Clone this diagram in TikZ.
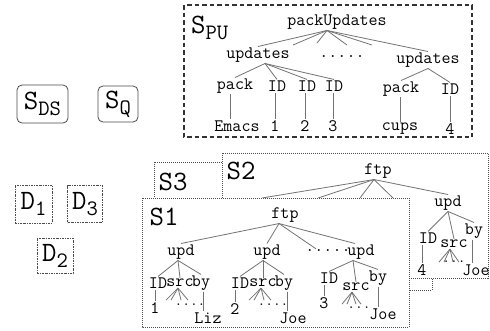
\documentclass[tikz,border=0pt]{standalone}
\usepackage{fontspec}
\usetikzlibrary{calc}
\newcommand\tfont{\ttfamily\fontsize{17.5}{17.5}\selectfont}
\newcommand\dfont{\ttfamily\fontsize{15}{15}\selectfont}
\newcommand\labS[2]{{\ttfamily\fontsize{28}{28}\selectfont #1}{\ttfamily\fontsize{22}{22}\selectfont\raisebox{-6pt}{#2}}}
\begin{document}
\begin{tikzpicture}[x=1pt,y=-1pt,
  t/.style={font=\tfont, inner sep=1pt, text=black},
  td/.style={font=\dfont, inner sep=0pt, text=black},
  big/.style={font=\ttfamily\fontsize{28}{28}\selectfont, inner sep=0pt, text=black},
  ln/.style={draw=black!55, line width=0.8pt},
  dotbox/.style={draw=black!70, line width=1pt, densely dotted, fill=white},
  dashbox/.style={draw=black!80, line width=1.2pt, dash pattern=on 4.5pt off 3pt},
  dbox/.style={draw=black!70, line width=0.9pt, dash pattern=on 2pt off 1pt on 0.7pt off 1pt, inner sep=0pt, text=black},
  rbox/.style={draw=black!70, line width=0.8pt, rounded corners=5pt, inner sep=0pt, text=black}]
\useasboundingbox (0,0) rectangle (490,330);
\fill[white] (0,0) rectangle (490,330);

% ---------- S_PU ----------
\draw[dashbox] (184,5) rectangle (472,137);
\node[inner sep=0pt, anchor=base west, text=black] (lpu) at (191,33) {\labS{S}{PU}};
\node[t] (pu) at (337,22) {packUpdates};
\node[t] (u1) at (258,55) {updates};
\node[t] (ud) at (342,57) {.....};
\node[t] (u2) at (428,60) {updates};
\coordinate (c1) at (293,45);
\coordinate (c2) at (317,43);
\coordinate (c3) at (347,45);
\coordinate (c4) at (372,45);
\foreach \e in {u1.north,c1,c2,c3,c4,u2.north}
  \draw[ln] ([xshift=-10pt]pu.south) -- (\e);
\node[t] (p1) at (235,86) {pack};
\node[t] (i1) at (277,86) {ID};
\node[t] (i2) at (307,86) {ID};
\node[t] (i3) at (334,86) {ID};
\foreach \e in {p1,i1,i2,i3}
  \draw[ln] ([xshift=7pt]u1.south) -- (\e.north);
\node[t] (em) at (237,126) {Emacs};
\node[t] (n1) at (275,126) {1};
\node[t] (n2) at (305,126) {2};
\node[t] (n3) at (333,126) {3};
\draw[ln] ([xshift=-5pt]p1.south) -- ([xshift=-5pt]p1.south |- em.north);
\draw[ln] (n1.north) -- (n1.north |- i1.south);
\draw[ln] (n2.north) -- (n2.north |- i2.south);
\draw[ln] (n3.north) -- (n3.north |- i3.south);
\node[t] (p2) at (401,89) {pack};
\node[t] (i4) at (450,89) {ID};
\draw[ln] (u2.south) -- (p2.north);
\draw[ln] (u2.south) -- (i4.north);
\node[t] (cu) at (400,129) {cups};
\node[t] (n4) at (450,129) {4};
\draw[ln] (cu.north) -- (cu.north |- p2.south);
\draw[ln] (n4.north) -- (n4.north |- i4.south);

% ---------- S_DS, S_Q ----------
\node[rbox, minimum width=51pt, minimum height=38pt] (sds) at (42.5,104) {\labS{S}{DS}};
\node[rbox, minimum width=40pt, minimum height=36pt] (sq) at (118,104) {\labS{S}{Q}};

% ---------- D boxes ----------
\node[dbox, minimum width=37pt, minimum height=38pt] (d1) at (33.5,204) {\labS{D}{1}};
\node[dbox, minimum width=35pt, minimum height=37pt] (d3) at (85,204) {\labS{D}{3}};
\node[dbox, minimum width=36pt, minimum height=35pt] (d2) at (55,255.5) {\labS{D}{2}};

% ---------- S3 ----------
\draw[dotbox] (154,162) rectangle (432,290);
\node[big] (l3) at (173,182) {S3};

% ---------- S2 ----------
\draw[dotbox] (222,153) rectangle (488,278);
\node[big] (l2) at (241,171) {S2};
\node[t] (f2) at (378,171) {ftp};
\coordinate (c5) at (262,198);
\coordinate (c6) at (318,198);
\coordinate (c7) at (360,198);
\coordinate (c8) at (393,198);
\node[t] (s2u) at (448,203) {upd};
\foreach \e in {c5,c6,c7,c8,s2u.north}
  \draw[ln] ([xshift=-4pt]f2.south) -- (\e);
\node[t] (s2i) at (428,238) {ID};
\node[t] (s2s) at (454,244) {src};
\node[t] (s2b) at (474,231) {by};
\foreach \e in {s2i,s2s,s2b}
  \draw[ln] (s2u.south) -- (\e.north);
\node[t] (s2n) at (422,270) {4};
\node[t] (s2j) at (476,270) {Joe};
\node[td] (s2d) at (454,262) {...};
\draw[ln] (s2n.north) -- (s2n.north |- s2i.south);
\draw[ln] ([xshift=-2pt]s2b.south) -- ([xshift=-2pt]s2b.south |- s2j.north);
\foreach \d in {-11,-6,3,9}
  \draw[ln] ([xshift=-4pt]s2s.south) -- +(\d,13);

% ---------- S1 ----------
\draw[dotbox] (142,198) rectangle (409,327);
\node[big] (l1) at (164,217) {S1};
\node[t] (f1) at (285,215) {ftp};
\node[t] (a1) at (181,252) {upd};
\node[t] (a2) at (267,252) {upd};
\node[t] (ad) at (328,251) {.....};
\node[t] (a3) at (361,252) {upd};
\draw[ln] ([xshift=-6pt]f1.south) -- (a1.north);
\draw[ln] ([xshift=-6pt]f1.south) -- (a2.north);
\draw[ln] ([xshift=-6pt]f1.south) -- ([xshift=-12pt]ad.north);
\draw[ln] ([xshift=-6pt]f1.south) -- ([xshift=-6pt]a3.north);
% group 1
\node[t] (a1i) at (158,283) {ID};
\node[t] (a1s) at (180,283) {src};
\node[t] (a1b) at (201,283) {by};
\foreach \e in {a1i,a1s,a1b}
  \draw[ln] ([xshift=-3pt]a1.south) -- (\e.north);
\node[t] (a1n) at (155,308) {1};
\node[td] (a1d) at (190,305) {....};
\node[t] (a1l) at (208,318) {Liz};
\draw[ln] (a1n.north) -- (a1n.north |- a1i.south);
\draw[ln] ([xshift=2pt]a1b.south) -- ([xshift=2pt]a1b.south |- a1l.north);
\foreach \d in {-12,-7,3,10}
  \draw[ln] ([xshift=-2pt]a1s.south) -- +(\d,12);
% group 2
\node[t] (a2i) at (240,283) {ID};
\node[t] (a2s) at (263,283) {src};
\node[t] (a2b) at (284,283) {by};
\foreach \e in {a2i,a2s,a2b}
  \draw[ln] ([xshift=-4pt]a2.south) -- (\e.north);
\node[t] (a2n) at (235,309) {2};
\node[td] (a2d) at (273,305) {....};
\node[t] (a2j) at (293,318) {Joe};
\draw[ln] (a2n.north) -- (a2n.north |- a2i.south);
\draw[ln] ([xshift=3pt]a2b.south) -- ([xshift=3pt]a2b.south |- a2j.north);
\foreach \d in {-12,-7,3,10}
  \draw[ln] ([xshift=-2pt]a2s.south) -- +(\d,12);
% group 3
\node[t] (a3i) at (329,278) {ID};
\node[t] (a3s) at (356,287) {src};
\node[t] (a3b) at (378,278) {by};
\foreach \e in {a3i,a3s,a3b}
  \draw[ln] ([xshift=-8pt]a3.south) -- (\e.north);
\node[t] (a3n) at (324,303) {3};
\node[td] (a3d) at (359,308) {...};
\node[t] (a3j) at (383,314) {Joe};
\draw[ln] (a3n.north) -- (a3n.north |- a3i.south);
\draw[ln] (a3b.south) -- (a3b.south |- a3j.north);
\foreach \d in {-10,-5,4,9}
  \draw[ln] ([xshift=-4pt]a3s.south) -- +(\d,12);
\end{tikzpicture}
\end{document}
